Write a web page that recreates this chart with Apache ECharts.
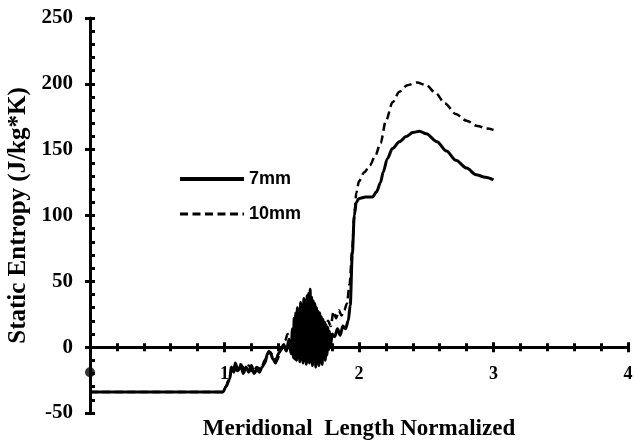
<!DOCTYPE html>
<html>
<head>
<meta charset="utf-8">
<script src="https://cdn.jsdelivr.net/npm/echarts@6/dist/echarts.min.js"></script>
<style>
  html, body { margin: 0; padding: 0; background: #fff; }
  #chart { width: 635px; height: 444px; }
</style>
</head>
<body>
<div id="chart"></div>
<script>
// Static entropy along the normalized meridional length, two tip clearances
const seriesNames = ['7mm', '10mm'];

const entropy7mm = [
  [0, -34], [0.5, -34], [0.99, -34], [1.01, -30], [1.04, -24], [1.05, -15], [1.07, -19],
  [1.08, -12], [1.10, -18], [1.12, -14], [1.14, -20], [1.16, -15], [1.18, -19], [1.20, -14],
  [1.22, -20], [1.24, -17], [1.26, -19], [1.28, -15], [1.30, -12], [1.32, -5], [1.34, -4],
  [1.36, -9], [1.38, -12], [1.40, -5], [1.42, -2], [1.44, 2], [1.46, -3], [1.48, 6],
  [1.495, -5], [1.505, 14], [1.512, -8], [1.518, 22],
  [1.524, -9], [1.530, 26], [1.536, -10], [1.542, 30], [1.548, -8], [1.554, 28],
  [1.560, -11], [1.566, 34], [1.572, -9], [1.578, 31], [1.584, -12], [1.590, 37],
  [1.596, -10], [1.602, 35], [1.608, -13], [1.614, 39], [1.620, -11], [1.626, 41],
  [1.632, -12], [1.637, 44], [1.642, -10], [1.648, 38], [1.654, -14], [1.660, 35],
  [1.666, -11], [1.672, 33], [1.678, -15], [1.684, 30], [1.690, -12], [1.696, 27],
  [1.702, -14], [1.708, 26], [1.714, -11], [1.720, 23], [1.726, -13], [1.732, 21],
  [1.738, -9], [1.744, 19], [1.750, -10], [1.756, 17], [1.762, -6], [1.768, 15],
  [1.774, -2], [1.780, 12], [1.79, 2], [1.80, 10], [1.82, 8], [1.84, 14], [1.86, 9],
  [1.88, 16], [1.90, 14], [1.92, 20], [1.935, 32], [1.95, 70], [1.965, 100], [1.98, 110],
  [2.0, 113], [2.05, 114], [2.10, 114], [2.13, 118], [2.16, 125], [2.18, 133], [2.21, 143],
  [2.25, 151], [2.30, 156], [2.35, 160], [2.40, 163], [2.45, 164], [2.50, 162], [2.58, 156],
  [2.65, 149], [2.72, 142], [2.80, 136], [2.87, 131], [2.94, 129], [3.0, 127]
];

const entropy10mm = [
  [0, -34], [0.99, -34], [1.01, -30], [1.04, -22], [1.06, -14], [1.09, -18], [1.12, -13],
  [1.15, -17], [1.18, -14], [1.21, -19], [1.24, -15], [1.27, -17], [1.30, -10], [1.33, -3],
  [1.36, -6], [1.39, -10], [1.42, -2], [1.45, 5], [1.47, 10], [1.49, 3], [1.51, 12],
  [1.53, -4], [1.55, 20], [1.57, -6], [1.59, 25], [1.61, -8], [1.63, 28], [1.65, -5],
  [1.67, 22], [1.69, -3], [1.71, 18], [1.73, 5], [1.75, 14], [1.77, 20], [1.79, 16],
  [1.81, 27], [1.83, 22], [1.85, 28], [1.87, 24], [1.89, 28], [1.91, 33], [1.93, 48],
  [1.95, 75], [1.965, 100], [1.98, 117], [2.0, 126], [2.04, 133], [2.08, 138], [2.12, 145],
  [2.16, 155], [2.20, 172], [2.25, 186], [2.30, 194], [2.36, 199], [2.43, 201], [2.50, 199],
  [2.57, 193], [2.64, 185], [2.72, 177], [2.80, 172], [2.88, 168], [2.95, 166], [3.0, 165]
];

// single marker sitting on the vertical axis
const inletPoint = [[0, -19]];

const xRange = [0, 4];
const yRange = [-50, 250];

const serif = '"Liberation Serif", "Times New Roman", serif';
const sans = '"Liberation Sans", Arial, sans-serif';

const chart = echarts.init(document.getElementById('chart'), null, { renderer: 'canvas' });

const axisBlack = { color: '#000', width: 3 };

chart.setOption({
  animation: false,
  backgroundColor: '#fff',
  grid: { left: 90, right: 7, top: 18, bottom: 31, containLabel: false, outerBoundsMode: 'none' },
  legend: {
    data: [
      { name: seriesNames[0], lineStyle: { width: 4, type: 'solid', color: '#000' } },
      { name: seriesNames[1], lineStyle: { width: 3, type: [8, 4.5], color: '#000' } }
    ],
    orient: 'vertical',
    left: 173,
    top: 165,
    itemWidth: 64,
    itemHeight: 14,
    itemGap: 17,
    itemStyle: { color: 'rgba(0,0,0,0)', borderWidth: 0, opacity: 0 },
    textStyle: { fontFamily: sans, fontSize: 18, fontWeight: 'bold', color: '#000' }
  },
  xAxis: [
    {
      type: 'value', min: xRange[0], max: xRange[1], interval: 1,
      name: 'Meridional  Length Normalized',
      nameLocation: 'middle', nameGap: 5,
      nameTextStyle: { fontFamily: serif, fontSize: 23, fontWeight: 'bold', color: '#000' },
      axisLine: { show: true, onZero: true, onZeroAxisIndex: 0, lineStyle: axisBlack },
      axisTick: { show: true, inside: true, length: 5, lineStyle: axisBlack },
      minorTick: { show: true, splitNumber: 5, length: 4, lineStyle: { color: '#000', width: 3 } },
      splitLine: { show: false },
      axisLabel: {
        fontFamily: serif, fontSize: 18, fontWeight: 'bold', color: '#000', margin: -48,
        formatter: v => (v === 0 ? '' : String(v))
      }
    },
    {
      // second copy of the axis draws the outward half of each tick
      type: 'value', min: xRange[0], max: xRange[1], interval: 1, position: 'bottom',
      axisLine: { show: true, onZero: true, onZeroAxisIndex: 0, lineStyle: { color: 'rgba(0,0,0,0)', width: 0 } },
      axisTick: { show: true, inside: false, length: 5, lineStyle: axisBlack },
      minorTick: { show: true, splitNumber: 5, length: 4, lineStyle: { color: '#000', width: 3 } },
      splitLine: { show: false },
      axisLabel: { show: false }
    }
  ],
  yAxis: [
    {
      type: 'value', min: yRange[0], max: yRange[1], interval: 50,
      name: 'Static Entropy (J/kg*K)',
      nameLocation: 'middle', nameGap: 56,
      nameTextStyle: { fontFamily: serif, fontSize: 25, fontWeight: 'bold', color: '#000' },
      axisLine: { show: true, onZero: false, lineStyle: axisBlack },
      axisTick: { show: true, inside: true, length: 5, lineStyle: axisBlack },
      minorTick: { show: true, splitNumber: 5, length: 5, lineStyle: { color: '#000', width: 3 } },
      splitLine: { show: false },
      axisLabel: { fontFamily: serif, fontSize: 21, fontWeight: 'bold', color: '#000', margin: 17 }
    },
    {
      type: 'value', min: yRange[0], max: yRange[1], interval: 50, position: 'left',
      axisLine: { show: true, onZero: false, lineStyle: { color: 'rgba(0,0,0,0)', width: 0 } },
      axisTick: { show: true, inside: false, length: 5, lineStyle: axisBlack },
      splitLine: { show: false },
      axisLabel: { show: false }
    }
  ],
  series: [
    {
      name: seriesNames[0], type: 'line', data: entropy7mm,
      xAxisIndex: 0, yAxisIndex: 0,
      symbol: 'none', smooth: 0.3, smoothMonotone: 'x',
      lineStyle: { color: '#000', width: 3, type: 'solid' },
      itemStyle: { color: '#000' }, z: 4
    },
    {
      name: seriesNames[1], type: 'line', data: entropy10mm,
      xAxisIndex: 0, yAxisIndex: 0,
      symbol: 'none', smooth: 0.3, smoothMonotone: 'x',
      lineStyle: { color: '#000', width: 2.5, type: [8, 4.5] },
      itemStyle: { color: '#000' }, z: 3
    },
    {
      name: 'marker', type: 'scatter', data: inletPoint,
      xAxisIndex: 0, yAxisIndex: 0,
      symbol: 'circle', symbolSize: 10,
      itemStyle: { color: '#000' }, z: 5
    }
  ]
});
</script>
</body>
</html>
